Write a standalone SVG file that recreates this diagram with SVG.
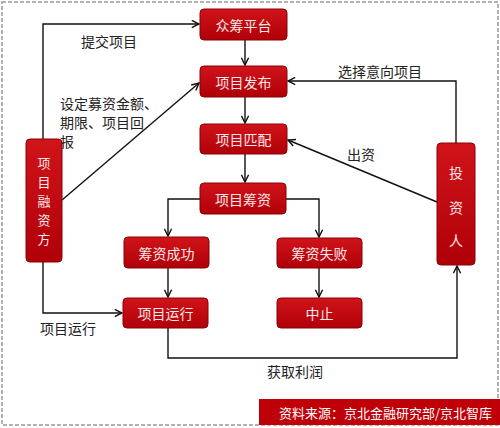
<svg xmlns="http://www.w3.org/2000/svg" width="500" height="428" viewBox="0 0 500 428">
<defs>
<linearGradient id="g" x1="0" y1="0" x2="0" y2="1">
<stop offset="0" stop-color="#d0141a"/>
<stop offset="1" stop-color="#b00008"/>
</linearGradient>
<marker id="a" viewBox="0 0 10 10" refX="9" refY="5" markerWidth="9" markerHeight="9" markerUnits="userSpaceOnUse" orient="auto">
<path d="M1,1 L9,5 L1,9" fill="none" stroke="#111" stroke-width="1.6"/>
</marker>
<style>
.n{fill:url(#g);stroke:#8a0006;stroke-width:1}
.t{font-family:"Noto Sans CJK SC","Noto Sans CJK JP",sans-serif;font-size:14px;fill:#fbe8e8;text-anchor:middle;dominant-baseline:central}
.v{font-size:13px}
.l{font-family:"Noto Sans CJK SC","Noto Sans CJK JP",sans-serif;font-size:14px;fill:#222}
.c{fill:none;stroke:#111;stroke-width:1.4;marker-end:url(#a)}
</style>
</defs>
<rect x="0" y="0" width="500" height="428" fill="#fff"/>
<rect x="2" y="2" width="496" height="423" fill="none" stroke="#999" stroke-width="1.5" stroke-dasharray="4 2"/>
<g id="connectors">
<path class="c" d="M43,139 V24 H199"/>
<path class="c" d="M62,200 L199,83"/>
<path class="c" d="M245,40 V65"/>
<path class="c" d="M245,97 V123"/>
<path class="c" d="M245,154 V182"/>
<path class="c" d="M200,199 H168 V236"/>
<path class="c" d="M285,199 H319 V237"/>
<path class="c" d="M168,268 V297"/>
<path class="c" d="M319,268 V297"/>
<path class="c" d="M43,262 V313 H122"/>
<path class="c" d="M168,328 V358 H457 V266"/>
<path class="c" d="M456,143 V81 H288"/>
<path class="c" d="M437,202 L288,140"/>
</g>
<g id="labels">
<text class="l" x="81" y="47">提交项目</text>
<text class="l" x="60" y="109">设定募资金额、</text>
<text class="l" x="60" y="128">期限、项目回</text>
<text class="l" x="60" y="147">报</text>
<text class="l" x="338" y="77">选择意向项目</text>
<text class="l" x="347" y="160">出资</text>
<text class="l" x="40" y="334">项目运行</text>
<text class="l" x="267" y="377">获取利润</text>
</g>
<g id="n1"><rect class="n" x="200" y="9" width="87" height="31" rx="4"/><text class="t" x="243.5" y="24.5">众筹平台</text></g>
<g id="n2"><rect class="n" x="200" y="66" width="87" height="31" rx="4"/><text class="t" x="243.5" y="81.5">项目发布</text></g>
<g id="n3"><rect class="n" x="200" y="124" width="87" height="30" rx="4"/><text class="t" x="243.5" y="139">项目匹配</text></g>
<g id="n4"><rect class="n" x="200" y="183" width="86" height="31" rx="4"/><text class="t" x="243" y="198.5">项目筹资</text></g>
<g id="n5"><rect class="n" x="124" y="237" width="85" height="31" rx="4"/><text class="t" x="166.5" y="252.5">筹资成功</text></g>
<g id="n6"><rect class="n" x="123" y="298" width="85" height="30" rx="4"/><text class="t" x="165.5" y="313">项目运行</text></g>
<g id="n7"><rect class="n" x="277" y="238" width="85" height="30" rx="4"/><text class="t" x="319.5" y="253">筹资失败</text></g>
<g id="n8"><rect class="n" x="277" y="298" width="85" height="30" rx="4"/><text class="t" x="319.5" y="313">中止</text></g>
<g id="n9"><rect class="n" x="26" y="139" width="36" height="123" rx="4"/>
<text class="t v" x="44" y="162">项</text><text class="t v" x="44" y="181">目</text><text class="t v" x="44" y="200">融</text><text class="t v" x="44" y="219">资</text><text class="t v" x="44" y="238">方</text></g>
<g id="n10"><rect class="n" x="437" y="143" width="38" height="122" rx="4"/>
<text class="t" x="456" y="172">投</text><text class="t" x="456" y="207">资</text><text class="t" x="456" y="240">人</text></g>
<g id="footer"><rect x="259" y="399" width="241" height="26" fill="#c00008"/>
<text x="279" y="412" style="font-family:'Noto Sans CJK SC',sans-serif;font-size:13px;fill:#fff;dominant-baseline:central">资料来源：京北金融研究部/京北智库</text></g>
</svg>
